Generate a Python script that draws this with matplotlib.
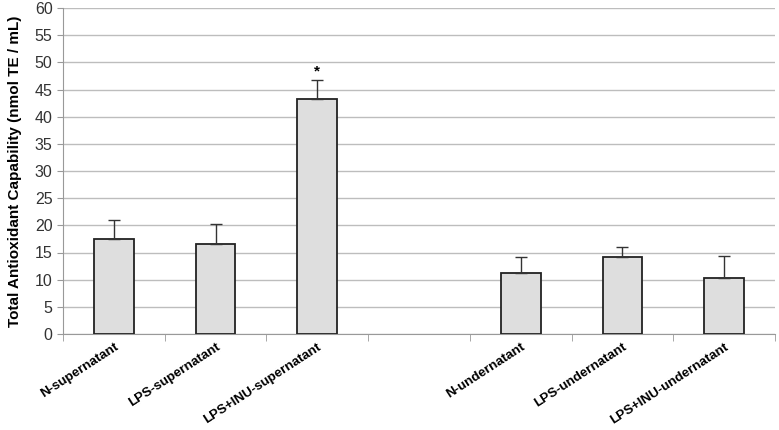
import numpy as np
import matplotlib
matplotlib.use("Agg")
import matplotlib.pyplot as plt

plt.rcParams['font.family'] = ['Liberation Sans', 'DejaVu Sans']

categories = ["N-supernatant", "LPS-supernatant", "LPS+INU-supernatant", "",
              "N-undernatant", "LPS-undernatant", "LPS+INU-undernatant"]
means = [17.5, 16.6, 43.3, np.nan, 11.3, 14.2, 10.3]
errors = [3.4, 3.6, 3.5, np.nan, 2.9, 1.9, 4.0]
yticks = list(range(0, 61, 5))

fig = plt.figure(figsize=(7.79, 4.30), dpi=100)
ax = fig.add_axes([63 / 779, 96 / 430, 712 / 779, 326 / 430])

x = np.arange(len(categories))
vals = np.nan_to_num(means)
errs = np.nan_to_num(errors)
mask = ~np.isnan(means)
ax.bar(x[mask], vals[mask], width=0.39, color="#dedede", edgecolor="#222222",
       linewidth=1.3, zorder=3)
ax.errorbar(x[mask], vals[mask], yerr=[np.zeros(mask.sum()), errs[mask]],
            fmt="none", ecolor="#333333", elinewidth=1.0, capsize=4,
            capthick=1.0, zorder=4)

# significance marker
ax.text(x[2], vals[2] + errs[2] + 0.3, "*", ha="center", va="bottom",
        fontsize=11, fontweight="bold")

ax.set_xlim(-0.5, len(categories) - 0.5)
ax.set_ylim(0, 60)
ax.set_yticks(yticks)
ax.tick_params(axis="y", labelsize=11.5, colors="#333333", length=4,
               color="#999999")
ax.yaxis.grid(True, color="#bdbdbd", linewidth=1.0, zorder=0)

ax.set_xticks(x)
ax.set_xticklabels(categories, rotation=33, ha="right", rotation_mode="anchor",
                   fontsize=9.6, fontweight="bold")
ax.tick_params(axis="x", length=0, pad=5)
ax.set_xticks(np.arange(-0.5, len(categories), 1.0), minor=True)
ax.tick_params(axis="x", which="minor", length=5, color="#999999")

for s in ["top", "right"]:
    ax.spines[s].set_visible(False)
for s in ["left", "bottom"]:
    ax.spines[s].set_color("#999999")

ax.set_ylabel("Total Antioxidant Capability (nmol TE / mL)", fontsize=11,
              fontweight="bold", labelpad=9)

fig.savefig("out.png", dpi=100)
